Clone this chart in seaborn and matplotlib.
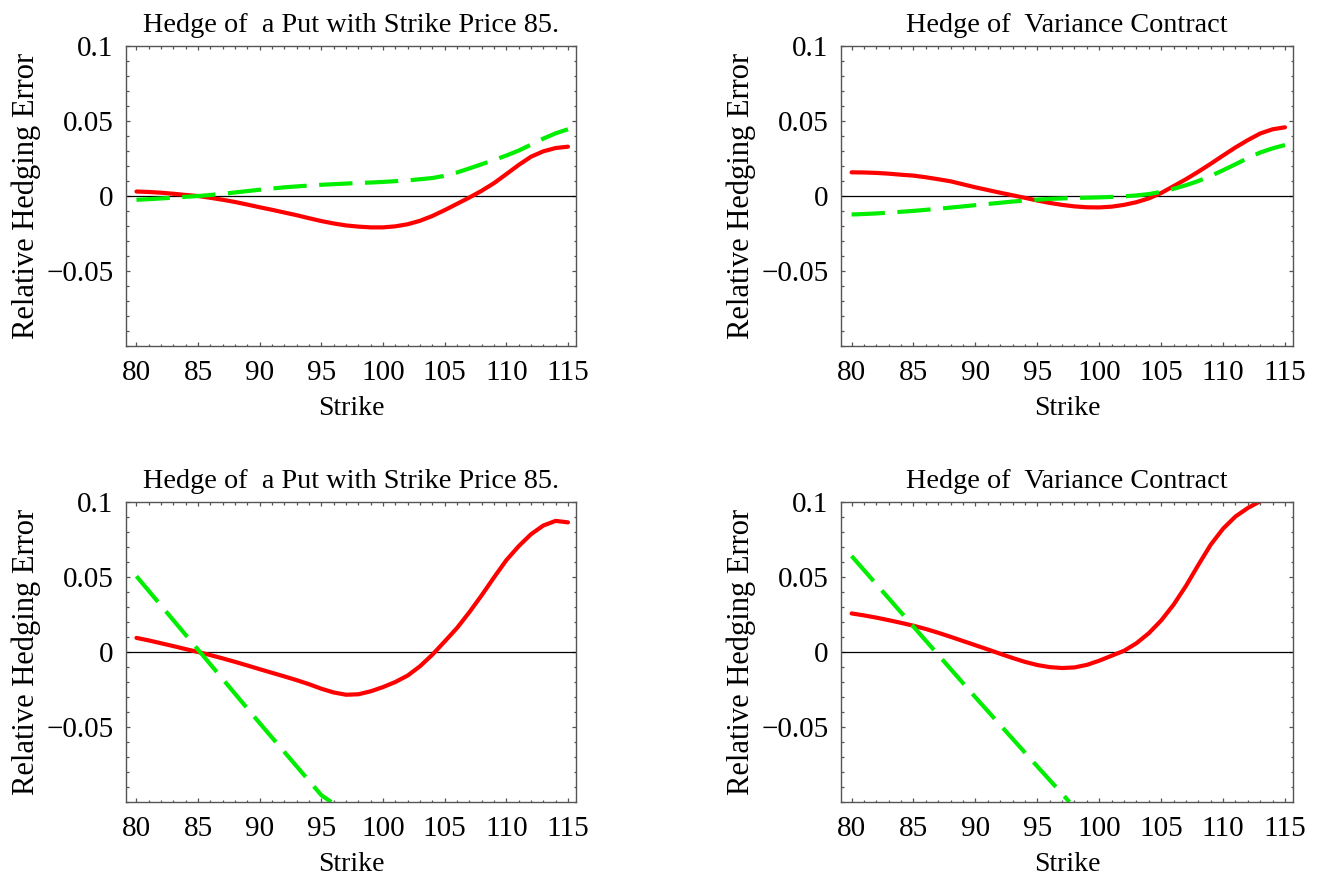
"""
Relative hedging error plots, four panels
"""
import numpy as np
import pandas as pd
import seaborn as sns
import matplotlib.pyplot as plt
from matplotlib.ticker import FixedLocator, MultipleLocator

# strike grid for the curved series
strike = list(range(80, 116))

# top left: put with strike 85
put_top_red = [0.0030, 0.0027, 0.0022, 0.0015, 0.0007, 0.0000, -0.0012, -0.0025, -0.0040, -0.0057,
               -0.0075, -0.0092, -0.0110, -0.0128, -0.0148, -0.0167, -0.0183, -0.0196, -0.0204, -0.0209,
               -0.0209, -0.0202, -0.0188, -0.0165, -0.0133, -0.0094, -0.0052, -0.0010, 0.0035, 0.0086,
               0.0146, 0.0207, 0.0262, 0.0298, 0.0320, 0.0329]
put_top_green = [-0.0025, -0.0021, -0.0016, -0.0011, -0.0005, 0.0000, 0.0007, 0.0015, 0.0024, 0.0033,
                 0.0042, 0.0050, 0.0058, 0.0064, 0.0070, 0.0075, 0.0079, 0.0083, 0.0087, 0.0090,
                 0.0094, 0.0099, 0.0104, 0.0112, 0.0120, 0.0135, 0.0157, 0.0184, 0.0212, 0.0240,
                 0.0270, 0.0303, 0.0342, 0.0383, 0.0418, 0.0445]

# top right: variance contract
var_top_red = [0.0158, 0.0157, 0.0154, 0.0149, 0.0142, 0.0136, 0.0125, 0.0112, 0.0098, 0.0078,
               0.0058, 0.0040, 0.0022, 0.0005, -0.0012, -0.0030, -0.0046, -0.0059, -0.0069, -0.0075,
               -0.0076, -0.0071, -0.0059, -0.0041, -0.0016, 0.0020, 0.0066, 0.0112, 0.0162, 0.0215,
               0.0270, 0.0324, 0.0373, 0.0417, 0.0445, 0.0458]
var_top_green = [-0.0123, -0.0120, -0.0116, -0.0111, -0.0105, -0.0099, -0.0092, -0.0085, -0.0077, -0.0069,
                 -0.0061, -0.0053, -0.0045, -0.0037, -0.0030, -0.0024, -0.0019, -0.0016, -0.0013, -0.0011,
                 -0.0009, -0.0006, -0.0002, 0.0004, 0.0013, 0.0028, 0.0048, 0.0072, 0.0100, 0.0134,
                 0.0172, 0.0212, 0.0253, 0.0290, 0.0318, 0.0340]

# bottom left: put with strike 85
put_bot_red = [0.0094, 0.0077, 0.0058, 0.0039, 0.0019, 0.0000, -0.0021, -0.0043, -0.0066, -0.0090,
               -0.0115, -0.0139, -0.0163, -0.0188, -0.0215, -0.0245, -0.0270, -0.0285, -0.0282, -0.0262,
               -0.0234, -0.0200, -0.0157, -0.0095, -0.0018, 0.0070, 0.0160, 0.0265, 0.0378, 0.0497,
               0.0612, 0.0705, 0.0785, 0.0843, 0.0874, 0.0864]
put_bot_green_x = [80, 85, 90, 95, 95.8]
put_bot_green = [0.0505, 0.0015, -0.0475, -0.0955, -0.1000]

# bottom right: variance contract
var_bot_red_x = list(range(80, 114))
var_bot_red = [0.0257, 0.0244, 0.0229, 0.0212, 0.0194, 0.0175, 0.0153, 0.0128, 0.0101, 0.0073,
               0.0045, 0.0017, -0.0012, -0.0040, -0.0066, -0.0087, -0.0101, -0.0107, -0.0103, -0.0086,
               -0.0058, -0.0025, 0.0008, 0.0058, 0.0125, 0.0210, 0.0315, 0.0440, 0.0580, 0.0715,
               0.0822, 0.0903, 0.0960, 0.1005]
var_bot_green_x = [80, 85, 90, 95, 97.6]
var_bot_green = [0.064, 0.0169, -0.0302, -0.0763, -0.1000]

title_put = "Hedge of  a Put with Strike Price 85."
title_var = "Hedge of  Variance Contract"

ytick_vals = [-0.05, 0, 0.05, 0.1]
ytick_labels = ["\u22120.05", "0", "0.05", "0.1"]
xtick_vals = [80, 85, 90, 95, 100, 105, 110, 115]

sns.set_style("ticks")
plt.rcParams['font.family'] = ['Liberation Serif', 'DejaVu Serif']
plt.rcParams['text.color'] = 'black'
plt.rcParams['axes.labelcolor'] = 'black'

RED = "#ff0000"
GREEN = "#00ee00"
FRAME = "#555555"

fig = plt.figure(figsize=(13.22, 8.85), dpi=100)

panels = [
    ([0.0953, 0.6090, 0.3404, 0.3390], title_put, strike, put_top_red, strike, put_top_green),
    ([0.6362, 0.6090, 0.3419, 0.3390], title_var, strike, var_top_red, strike, var_top_green),
    ([0.0953, 0.0938, 0.3404, 0.3390], title_put, strike, put_bot_red, put_bot_green_x, put_bot_green),
    ([0.6362, 0.0938, 0.3419, 0.3390], title_var, var_bot_red_x, var_bot_red, var_bot_green_x, var_bot_green),
]

for rect, title, rx, ry, gx, gy in panels:
    ax = fig.add_axes(rect)
    ax.axhline(0, color="black", lw=0.9, zorder=1)
    red_df = pd.DataFrame({"Strike": rx, "err": ry})
    green_df = pd.DataFrame({"Strike": gx, "err": gy})
    sns.lineplot(data=red_df, x="Strike", y="err", ax=ax, color=RED, lw=3.0,
                 estimator=None, sort=False)
    sns.lineplot(data=green_df, x="Strike", y="err", ax=ax, color=GREEN, lw=3.0,
                 estimator=None, sort=False, linestyle=(0, (8, 3)))

    ax.set_xlim(79.15, 115.65)
    ax.set_ylim(-0.1, 0.1)
    ax.xaxis.set_major_locator(FixedLocator(xtick_vals))
    ax.xaxis.set_minor_locator(MultipleLocator(1))
    ax.set_yticks(ytick_vals, ytick_labels)
    ax.yaxis.set_minor_locator(MultipleLocator(0.01))
    ax.tick_params(which="both", direction="in", top=True, right=True,
                   color=FRAME, width=0.9, labelsize=21, labelcolor="black")
    ax.tick_params(which="major", length=3.0)
    ax.tick_params(which="minor", length=1.8)
    ax.tick_params(axis="x", pad=10)
    ax.tick_params(axis="y", pad=9)
    for sp in ax.spines.values():
        sp.set_color(FRAME)
        sp.set_linewidth(1.0)

    ax.set_title(title, fontsize=20.3, pad=10, color="black")
    ax.set_xlabel("Strike", fontsize=20, labelpad=7)
    ax.set_ylabel("Relative Hedging Error", fontsize=22, labelpad=4)

plt.savefig("out.png", dpi=100)
